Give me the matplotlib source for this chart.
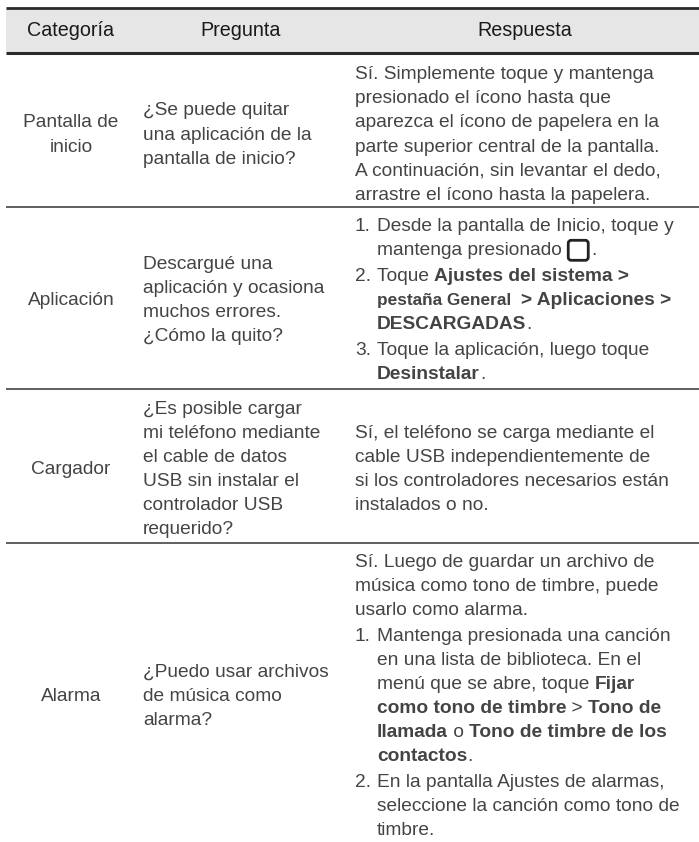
import matplotlib
matplotlib.use("Agg")
import matplotlib.pyplot as plt
from matplotlib.patches import FancyBboxPatch, Rectangle

headers = ["Categoría", "Pregunta", "Respuesta"]
categories = [["Pantalla de", "inicio"], ["Aplicación"], ["Cargador"], ["Alarma"]]
questions = [
    ["¿Se puede quitar", "una aplicación de la", "pantalla de inicio?"],
    ["Descargué una", "aplicación y ocasiona", "muchos errores.", "¿Cómo la quito?"],
    ["¿Es posible cargar", "mi teléfono mediante", "el cable de datos", "USB sin instalar el",
     "controlador USB", "requerido?"],
    ["¿Puedo usar archivos", "de música como", "alarma?"],
]
# each line is a list of (text, bold) pieces, "ICON" is the square home button
answers = [
    [[("Sí. Simplemente toque y mantenga", False)],
     [("presionado el ícono hasta que", False)],
     [("aparezca el ícono de papelera en la", False)],
     [("parte superior central de la pantalla.", False)],
     [("A continuación, sin levantar el dedo,", False)],
     [("arrastre el ícono hasta la papelera.", False)]],
    [[("1.", False), ("Desde la pantalla de Inicio, toque y", False)],
     [("", False), ("mantenga presionado ", False), ("ICON", False), (".", False)],
     [("2.", False), ("Toque ", False), ("Ajustes del sistema >", True)],
     [("", False), ("pestaña General  ", True), ("> Aplicaciones >", True)],
     [("", False), ("DESCARGADAS", True), (".", False)],
     [("3.", False), ("Toque la aplicación, luego toque", False)],
     [("", False), ("Desinstalar", True), (".", False)]],
    [[("Sí, el teléfono se carga mediante el", False)],
     [("cable USB independientemente de", False)],
     [("si los controladores necesarios están", False)],
     [("instalados o no.", False)]],
    [[("Sí. Luego de guardar un archivo de", False)],
     [("música como tono de timbre, puede", False)],
     [("usarlo como alarma.", False)],
     [("1.", False), ("Mantenga presionada una canción", False)],
     [("", False), ("en una lista de biblioteca. En el", False)],
     [("", False), ("menú que se abre, toque ", False), ("Fijar", True)],
     [("", False), ("como tono de timbre", True), (" > ", False), ("Tono de", True)],
     [("", False), ("llamada", True), (" o ", False), ("Tono de timbre de los", True)],
     [("", False), ("contactos", True), (".", False)],
     [("2.", False), ("En la pantalla Ajustes de alarmas,", False)],
     [("", False), ("seleccione la canción como tono de", False)],
     [("", False), ("timbre.", False)]],
]

W, H = 699, 842
TEXT = "#444444"
FS = 13.8
FS_NARROW = 12.4
LINE = 24.1
GAP = 1.5
rules = [207, 389, 543]
centers = [133.5, 299, 468, 695]
X_CAT, X_Q, X_A, INDENT = 71, 143, 355, 22

plt.rcParams["font.family"] = ["Liberation Sans", "DejaVu Sans"]
fig = plt.figure(figsize=(W / 100, H / 100), dpi=100)
ax = fig.add_axes([0, 0, 1, 1])
ax.set_xlim(0, W)
ax.set_ylim(H, 0)
ax.axis("off")

# header band
ax.add_patch(Rectangle((6, 8), W - 6, 44, fc="#e6e6e7", ec="none"))
ax.plot([6, W], [7.5, 7.5], color="#2a2a2a", lw=2, solid_capstyle="butt")
ax.plot([6, W], [52.5, 52.5], color="#2a2a2a", lw=2.2, solid_capstyle="butt")
for h, x in zip(headers, [71, 241, 525]):
    ax.text(x, 31, h, ha="center", va="center", fontsize=14.2, color="#1a1a1a")

renderer = fig.canvas.get_renderer()

def size_of(s):
    return FS_NARROW if s.startswith("pestaña") else FS

def width_of(s, bold):
    t = ax.text(0, 0, s.replace(" ", "\u00a0"), fontsize=size_of(s), fontweight="bold" if bold else "normal")
    w = t.get_window_extent(renderer).width
    t.remove()
    return w

def draw_line(y, pieces):
    x = X_A
    for n, (s, bold) in enumerate(pieces):
        if n == 0 and len(pieces) > 1 and (s == "" or s[0].isdigit()):
            # list number, the text after it hangs at the indent
            ax.text(x, y, s, ha="left", va="baseline", fontsize=FS, color=TEXT)
            x = X_A + INDENT
            continue
        if s == "ICON":
            ax.add_patch(FancyBboxPatch((x + 1, y - 15), 20, 20, boxstyle="round,pad=0,rounding_size=3",
                                        fc="none", ec="#222222", lw=2))
            x += 24
            continue
        ax.text(x, y, s, ha="left", va="baseline", fontsize=size_of(s),
                fontweight="bold" if bold else "normal", color=TEXT)
        x += width_of(s, bold)

for i in range(4):
    mid = centers[i]
    cat = categories[i]
    y0 = mid - (len(cat) - 1) * LINE / 2
    for j, s in enumerate(cat):
        ax.text(X_CAT, y0 + j * LINE + 6, s, ha="center", va="baseline", fontsize=FS, color=TEXT)
    q = questions[i]
    y0 = mid - (len(q) - 1) * LINE / 2
    for j, s in enumerate(q):
        ax.text(X_Q, y0 + j * LINE + 6, s, ha="left", va="baseline", fontsize=FS, color=TEXT)
    a = answers[i]
    # list items sit a little further apart than plain lines
    steps = [0.0]
    for pieces in a[1:]:
        steps.append(steps[-1] + LINE + (GAP if pieces[0][0][:1].isdigit() else 0))
    y0 = mid - steps[-1] / 2
    for step, pieces in zip(steps, a):
        draw_line(y0 + step + 6, pieces)
    if i < 3:
        ax.plot([6, W], [rules[i], rules[i]], color="#444444", lw=1.2, solid_capstyle="butt")

fig.savefig("out.png", dpi=100)
